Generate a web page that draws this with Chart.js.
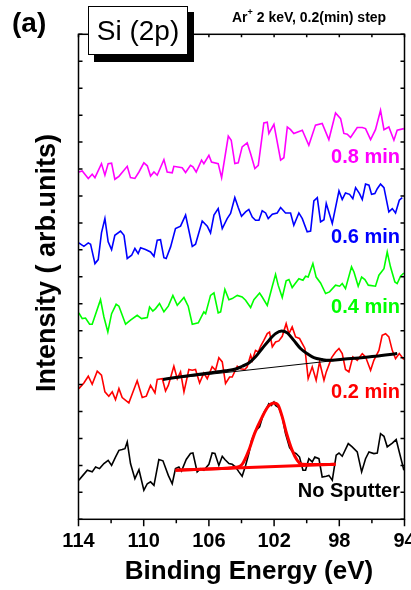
<!DOCTYPE html>
<html>
<head>
<meta charset="utf-8">
<script src="https://cdn.jsdelivr.net/npm/chart.js@4.4.0/dist/chart.umd.min.js"></script>
<style>
html, body { margin: 0; padding: 0; background: #fff; overflow: hidden; }
#wrap { width: 440px; height: 590px; }
</style>
</head>
<body>
<div id="wrap"><canvas id="xps" width="440" height="590"></canvas></div>
<script>
// Si 2p spectra (binding energy in eV, intensity in arb. units)
const magentaE = [113.98,113.77,113.40,113.16,112.99,112.59,112.38,112.18,111.97,111.77,111.52,111.01,110.81,110.54,110.29,109.99,109.78,109.58,109.37,109.17,108.76,108.56,108.25,108.15,107.64,107.43,107.13,106.98,106.78,106.45,106.31,106.00,105.84,105.43,105.22,104.81,104.63,104.41,104.20,103.96,103.65,103.44,103.18,102.97,102.63,102.42,102.32,102.01,101.60,101.40,101.19,100.99,100.79,100.27,99.87,99.46,99.05,98.64,98.23,97.92,97.72,97.51,97.31,96.90,96.59,96.39,96.08,95.78,95.47,95.26,94.96,94.65,94.45,94.04];
const magentaI = [12.89,12.93,12.65,12.81,12.68,13.20,12.77,13.20,13.22,12.62,12.73,13.10,12.68,12.65,12.89,13.23,13.12,12.74,12.89,12.77,13.35,12.89,12.86,13.10,13.05,12.87,13.14,13.08,12.89,13.33,13.20,13.51,13.26,13.20,12.68,14.22,14.07,13.20,13.23,13.82,13.97,13.57,13.02,13.14,14.71,14.74,14.32,14.66,13.33,13.42,14.56,14.46,14.32,14.44,13.88,14.63,14.69,14.09,15.08,14.87,14.32,14.29,14.17,14.54,14.54,14.50,14.09,14.46,15.18,14.46,14.56,14.07,14.44,14.50];

const blueE = [113.98,113.67,113.40,113.26,112.99,112.79,112.59,112.38,112.18,111.97,111.77,111.42,111.21,111.01,110.74,110.54,110.34,110.19,109.89,109.58,109.37,109.17,108.97,108.76,108.62,108.35,108.05,107.74,107.43,107.02,106.82,106.41,106.10,105.90,105.69,105.43,105.18,104.88,104.67,104.41,104.20,104.00,103.75,103.55,103.34,103.14,102.93,102.73,102.52,102.36,102.11,101.81,101.60,101.30,100.99,100.79,100.48,100.27,99.97,99.76,99.56,99.35,99.15,98.94,98.80,98.43,98.02,97.82,97.62,97.37,97.17,97.00,96.76,96.59,96.39,96.18,96.02,95.82,95.67,95.47,95.26,94.96,94.75,94.55,94.32,94.14];
const blueI = [10.26,10.13,10.26,10.21,9.49,9.64,10.63,11.16,10.30,10.01,10.54,10.70,10.54,9.68,9.80,10.05,9.86,10.08,10.01,9.92,9.76,10.36,10.38,9.71,9.68,10.11,10.79,10.88,11.29,10.13,10.21,11.07,10.88,10.63,11.29,11.53,10.79,11.16,11.35,11.94,11.57,11.25,11.41,11.50,11.22,11.10,11.10,11.45,11.37,11.16,11.32,11.37,11.57,11.37,11.37,10.91,11.37,11.16,10.67,10.70,11.82,11.94,11.04,11.12,11.72,10.98,12.19,11.87,12.11,12.06,11.90,12.31,12.09,11.87,12.44,12.40,12.06,12.09,12.27,12.44,12.31,11.41,11.53,11.37,11.84,11.94];

const greenE = [113.98,113.77,113.57,113.32,113.16,112.65,112.44,112.20,111.97,111.69,111.52,111.11,110.81,110.40,110.13,109.78,109.64,109.44,109.27,109.03,108.76,108.49,108.21,107.94,107.53,107.27,107.02,106.65,106.31,106.20,105.90,105.69,105.43,105.28,105.02,104.77,104.57,104.26,103.96,103.75,103.44,103.24,102.89,102.73,102.42,102.11,101.91,101.75,101.50,101.26,101.09,100.89,100.68,100.48,100.23,100.07,99.91,99.62,99.42,99.15,98.84,98.60,98.23,97.98,97.82,97.62,97.25,97.10,96.84,96.63,96.43,96.22,95.78,95.57,95.26,95.06,94.86,94.59,94.45,94.24,94.04];
const greenI = [7.66,7.45,7.47,7.24,7.24,8.15,7.51,6.95,7.63,7.98,7.91,7.24,7.39,7.57,7.45,7.49,7.88,7.73,7.82,8.01,7.70,7.91,8.31,7.94,8.23,7.91,7.24,7.29,7.70,7.63,8.31,8.40,7.66,7.70,8.53,8.15,8.19,8.31,8.25,8.13,7.86,8.15,8.40,8.25,7.94,8.65,9.09,8.69,8.23,8.85,8.90,8.60,8.77,8.93,8.87,9.02,8.99,9.49,8.99,8.77,8.38,8.44,8.69,8.65,8.75,8.56,9.37,9.18,8.65,8.99,8.90,8.69,8.65,9.06,9.30,9.92,9.37,8.81,8.75,9.02,9.14];

const redE = [113.98,113.67,113.40,113.16,112.85,112.59,112.38,112.14,111.93,111.73,111.52,111.32,110.91,110.70,110.40,110.09,109.84,109.58,109.31,109.17,108.86,108.66,108.49,108.15,107.94,107.74,107.53,107.33,107.23,107.02,106.82,106.57,106.31,106.10,105.80,105.59,105.39,105.18,104.98,104.73,104.57,104.26,104.06,103.79,103.65,103.44,103.34,103.14,102.97,102.83,102.63,102.42,102.28,102.11,101.91,101.71,101.50,101.26,101.09,100.89,100.68,100.44,100.11,99.91,99.66,99.42,99.21,98.94,98.80,98.47,98.23,98.02,97.82,97.62,97.41,97.17,96.90,96.59,96.39,96.08,95.88,95.57,95.37,95.16,94.96,94.75,94.55,94.32,94.04];
const redI = [4.85,5.06,5.31,5.01,5.50,5.35,4.73,4.57,4.73,4.44,4.85,4.52,4.32,4.66,5.14,4.52,4.57,4.97,4.69,5.19,5.22,4.76,4.97,5.68,5.22,5.47,4.73,5.28,5.56,5.53,5.56,5.06,5.43,5.22,5.66,5.53,6.00,5.84,5.04,5.28,5.28,5.68,5.59,5.56,5.66,6.09,5.90,6.27,6.21,6.42,6.64,6.89,6.95,6.40,6.58,6.62,6.79,7.26,6.89,7.14,6.77,6.71,6.34,5.22,5.66,5.16,5.84,5.16,5.47,6.00,6.21,6.34,6.15,5.56,5.47,6.03,5.90,6.15,6.03,5.53,5.90,6.27,6.83,6.89,6.77,6.27,5.96,6.15,5.93];

const blackE = [113.98,113.73,113.46,113.16,112.95,112.71,112.44,112.18,111.97,111.73,111.52,111.32,111.15,111.01,110.81,110.54,110.29,109.99,109.78,109.58,109.37,109.07,108.82,108.49,108.25,108.05,107.84,107.68,107.39,107.13,106.98,106.72,106.51,106.31,106.00,105.80,105.63,105.39,105.18,105.02,104.77,104.57,104.36,104.16,103.96,103.75,103.55,103.38,103.14,102.89,102.63,102.42,102.32,102.16,102.01,101.91,101.71,101.50,101.30,101.05,100.85,100.64,100.44,100.23,100.07,99.87,99.66,99.50,99.25,99.05,98.80,98.64,98.43,98.19,98.02,97.82,97.45,97.21,96.90,96.63,96.39,96.18,95.88,95.67,95.47,95.26,95.06,94.75,94.51,94.32,94.14,94.04];
const blackI = [1.45,1.63,1.82,1.76,1.94,1.88,2.07,2.19,2.00,2.31,2.56,2.59,2.62,2.87,2.07,1.51,1.84,1.08,1.32,1.39,1.26,2.22,2.17,1.63,1.32,1.88,1.94,1.79,2.22,2.44,2.46,1.76,1.88,1.82,2.04,2.46,2.44,2.00,2.34,2.22,2.07,2.04,1.94,1.76,1.60,2.00,2.44,2.93,3.28,3.43,3.95,4.17,4.29,4.23,4.35,4.23,4.15,3.80,3.18,2.66,2.50,2.44,2.31,1.82,1.82,2.25,2.13,2.31,2.25,1.57,1.60,1.63,1.45,2.38,2.46,2.34,2.81,2.69,2.50,1.76,2.25,2.50,2.44,2.46,3.18,3.08,2.69,2.83,2.96,2.50,2.07,1.82];

// peak fits and their backgrounds
const fit02E = [108.82,108.05,107.02,106.00,104.98,104.36,103.96,103.55,103.14,102.73,102.32,101.91,101.54,101.19,100.79,100.38,99.97,99.56,99.05,98.64,97.82,96.80,95.78,94.45];
const fit02I = [5.19,5.26,5.35,5.43,5.51,5.58,5.68,5.80,6.03,6.34,6.64,6.89,6.99,6.92,6.64,6.34,6.15,6.00,5.93,5.90,5.94,5.99,6.05,6.15];
const base02E = [108.82,94.45];
const base02I = [5.19,6.15];

const fit00E = [108.05,106.00,104.36,103.96,103.55,103.20,102.73,102.36,102.01,101.75,101.50,101.23,100.89,100.58,100.27,99.46,98.23];
const fit00I = [1.82,1.87,1.93,2.04,2.56,3.18,3.80,4.19,4.32,4.23,3.80,3.18,2.56,2.19,2.04,2.03,2.04];
const base00E = [108.05,98.23];
const base00I = [1.82,2.04];

const xMajor = [114,110,106,102,98,94];
const xMinor = [112,108,104,100,96];
const seriesNames = ['0.8 min','0.6 min','0.4 min','0.2 min','No Sputter'];

const FONT = '"Liberation Sans", Arial, sans-serif';

function pts(e, v) {
    return e.map((x, i) => ({ x: x, y: v[i] }));
}

function spectrum(e, v, color) {
    return { data: pts(e, v), borderColor: color, borderWidth: 1.6, pointRadius: 0, tension: 0, order: 2 };
}

function fitLine(e, v, color, width) {
    return { data: pts(e, v), borderColor: color, borderWidth: width, pointRadius: 0,
             cubicInterpolationMode: 'monotone', order: 0 };
}

// frame, inward ticks and all the free text
const framePlugin = {
    id: 'frame',
    afterDraw(chart) {
        const ctx = chart.ctx;
        const a = chart.chartArea;
        const xs = chart.scales.x, ys = chart.scales.y;
        ctx.save();
        ctx.strokeStyle = '#000';
        ctx.lineWidth = 1.5;
        ctx.strokeRect(a.left, a.top, a.right - a.left, a.bottom - a.top);
        ctx.beginPath();
        ys.ticks.forEach(t => {
            const y = ys.getPixelForValue(t.value);
            ctx.moveTo(a.left, y); ctx.lineTo(a.left + 4, y);
            ctx.moveTo(a.right, y); ctx.lineTo(a.right - 4, y);
        });
        xMajor.forEach(v => {
            const x = xs.getPixelForValue(v);
            ctx.moveTo(x, a.bottom); ctx.lineTo(x, a.bottom + 7);
            ctx.moveTo(x, a.top); ctx.lineTo(x, a.top + 3);
        });
        xMinor.forEach(v => {
            const x = xs.getPixelForValue(v);
            ctx.moveTo(x, a.bottom); ctx.lineTo(x, a.bottom + 4);
            ctx.moveTo(x, a.top); ctx.lineTo(x, a.top + 3);
        });
        ctx.stroke();

        // series labels
        const labelY = [157, 237, 307, 392, 491];
        const labelColor = ['#ff00ff', '#0000ff', '#00ff00', '#ff0000', '#000000'];
        ctx.font = 'bold 20px ' + FONT;
        ctx.textAlign = 'right';
        ctx.textBaseline = 'middle';
        seriesNames.forEach((s, i) => {
            ctx.fillStyle = labelColor[i];
            ctx.fillText(s, 400, labelY[i]);
        });

        // axis titles
        ctx.fillStyle = '#000';
        ctx.font = 'bold 26px ' + FONT;
        ctx.textAlign = 'center';
        ctx.fillText('Binding Energy (eV)', 249, 572);
        ctx.save();
        ctx.translate(48, 263);
        ctx.rotate(-Math.PI / 2);
        ctx.font = 'bold 27px ' + FONT;
        ctx.fillText('Intensity ( arb.units)', 0, 0);
        ctx.restore();

        // panel letter
        ctx.textAlign = 'left';
        ctx.textBaseline = 'alphabetic';
        ctx.font = 'bold 28px ' + FONT;
        ctx.fillText('(a)', 12, 32);

        // Si (2p) box with drop shadow
        ctx.fillStyle = '#000';
        ctx.fillRect(94, 12, 100, 50);
        ctx.fillStyle = '#fff';
        ctx.fillRect(88, 6, 100, 49);
        ctx.strokeStyle = '#000';
        ctx.lineWidth = 1;
        ctx.strokeRect(88.5, 6.5, 99, 48);
        ctx.fillStyle = '#000';
        ctx.font = '28px ' + FONT;
        ctx.textAlign = 'center';
        ctx.fillText('Si (2p)', 138, 40);

        // sputter condition
        ctx.textAlign = 'left';
        ctx.font = 'bold 14px ' + FONT;
        let x = 232;
        ctx.fillText('Ar', x, 22);
        x += ctx.measureText('Ar').width;
        ctx.font = 'bold 9px ' + FONT;
        ctx.fillText('+', x, 15);
        x += ctx.measureText('+').width;
        ctx.font = 'bold 14px ' + FONT;
        ctx.fillText(' 2 keV, 0.2(min) step', x, 22);
        ctx.restore();
    }
};

new Chart(document.getElementById('xps'), {
    type: 'line',
    data: {
        datasets: [
            fitLine(fit02E, fit02I, '#000000', 3),
            fitLine(base02E, base02I, '#000000', 1),
            fitLine(fit00E, fit00I, '#ff0000', 3),
            fitLine(base00E, base00I, '#ff0000', 3),
            spectrum(magentaE, magentaI, '#ff00ff'),
            spectrum(blueE, blueI, '#0000ff'),
            spectrum(greenE, greenI, '#00ff00'),
            spectrum(redE, redI, '#ff0000'),
            spectrum(blackE, blackI, '#000000')
        ]
    },
    options: {
        responsive: false,
        animation: false,
        devicePixelRatio: 1,
        layout: { padding: { left: 0, top: 34.3, right: 35.5, bottom: 0 } },
        plugins: { legend: { display: false }, tooltip: { enabled: false } },
        scales: {
            x: {
                type: 'linear',
                reverse: true,
                min: 94,
                max: 114,
                grid: { display: false, drawTicks: false },
                border: { display: false },
                afterFit: s => { s.height = 70.7; },
                afterBuildTicks: s => {
                    s.ticks = xMajor.concat(xMinor).sort((p, q) => q - p).map(v => ({ value: v }));
                },
                ticks: {
                    autoSkip: false,
                    maxRotation: 0,
                    padding: 10,
                    color: '#000',
                    font: { family: FONT, size: 20, weight: 'bold' },
                    callback: v => (xMajor.includes(v) ? String(v) : '')
                }
            },
            y: {
                min: 0,
                max: 18,
                grid: { display: false, drawTicks: false },
                border: { display: false },
                afterFit: s => { s.width = 78.5; },
                ticks: { stepSize: 1, display: false }
            }
        }
    },
    plugins: [framePlugin]
});
</script>
</body>
</html>
